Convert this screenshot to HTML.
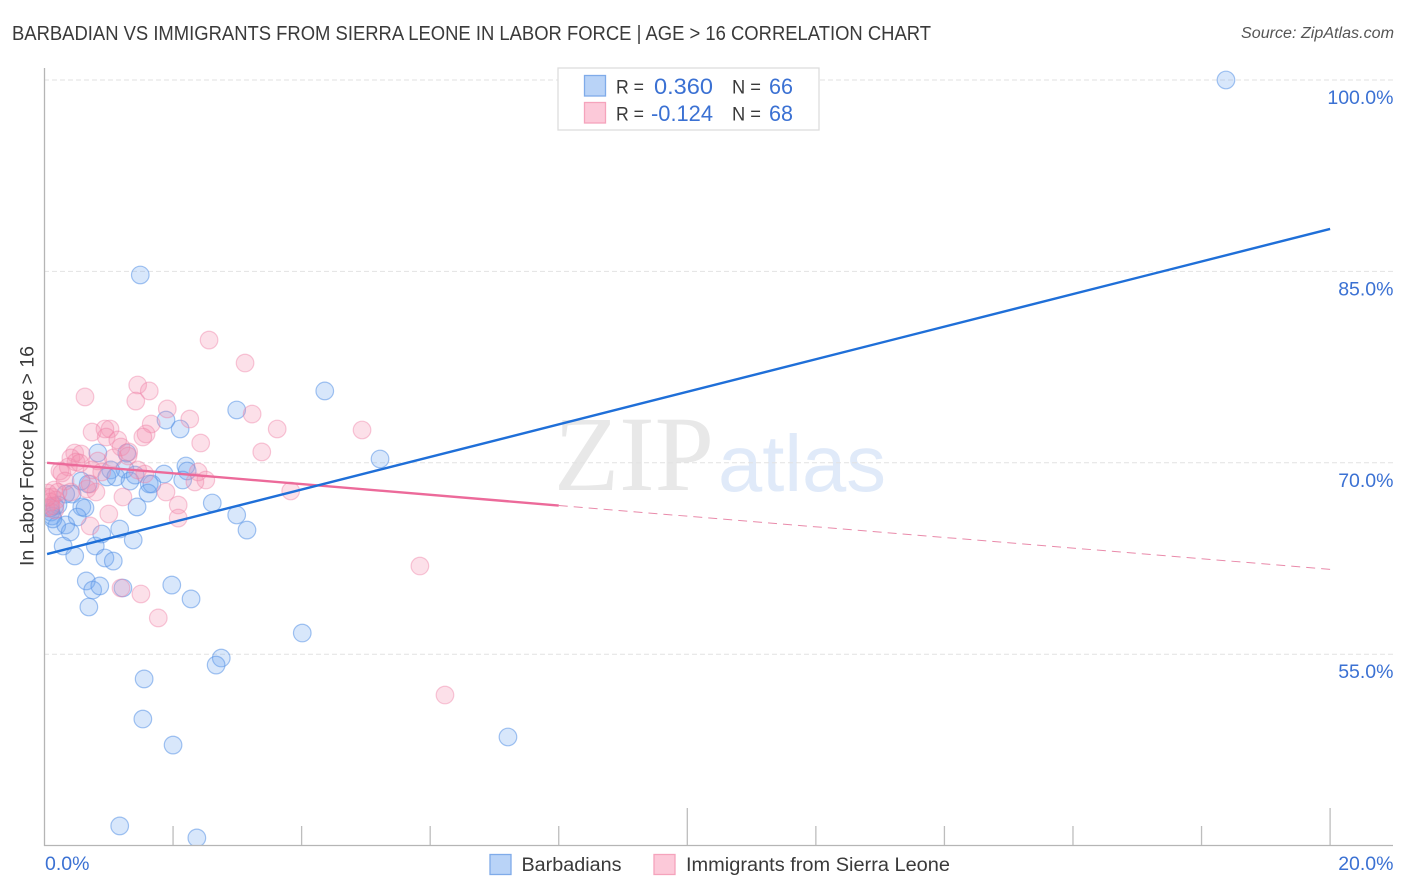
<!DOCTYPE html>
<html lang="en">
<head>
<meta charset="utf-8">
<title>Barbadian vs Immigrants from Sierra Leone in Labor Force Correlation Chart</title>
<style>
html,body{margin:0;padding:0;background:#fff;}
svg{display:block;font-family:"Liberation Sans",sans-serif;}
</style>
</head>
<body>
<svg id="chart" xmlns="http://www.w3.org/2000/svg" width="1406" height="892" viewBox="0 0 1406 892">
  <defs>
    <clipPath id="plot-clip"><rect x="45" y="60" width="1349" height="785"></rect></clipPath>
  </defs>
  <rect x="0" y="0" width="1406" height="892" fill="#ffffff"></rect>

  <text x="12" y="40" font-size="20" fill="#3a3a3a" textLength="919" lengthAdjust="spacingAndGlyphs">BARBADIAN VS IMMIGRANTS FROM SIERRA LEONE IN LABOR FORCE | AGE &gt; 16 CORRELATION CHART</text>
  <text x="1241" y="38" font-size="15.5" font-style="italic" fill="#555555" textLength="153" lengthAdjust="spacingAndGlyphs">Source: ZipAtlas.com</text>

  <g>
    <text x="554" y="490" font-family="'Liberation Serif',serif" font-size="107" fill="#e8e8e8" textLength="160" lengthAdjust="spacingAndGlyphs">ZIP</text>
    <text x="718" y="491" font-size="80" fill="#e0eaf9" textLength="168" lengthAdjust="spacingAndGlyphs">atlas</text>
  </g>

  <g id="grid"></g>
  <g id="points" clip-path="url(#plot-clip)"></g>
  <g id="trends" clip-path="url(#plot-clip)"></g>

  <g>
    <line x1="44.5" y1="68" x2="44.5" y2="846" stroke="#b5b5b5" stroke-width="1.3"></line>
    <line x1="44" y1="845.5" x2="1393" y2="845.5" stroke="#b5b5b5" stroke-width="1.3"></line>
  </g>
  <g id="xticks"></g>
  <g id="ylabels"></g>
  <g id="xlabels"></g>

  <text transform="translate(33.5,566) rotate(-90)" font-size="19" fill="#3a3a3a" textLength="220" lengthAdjust="spacingAndGlyphs">In Labor Force | Age &gt; 16</text>

  <g>
    <rect x="558" y="68" width="261" height="62" fill="#ffffff" stroke="#dddddd" stroke-width="1.3"></rect>
    <rect x="584.5" y="75.5" width="21" height="20.5" fill="#b9d3f7" stroke="#7fabe9" stroke-width="1.3"></rect>
    <text x="616" y="93.5" font-size="19" fill="#3a3a3a" textLength="28" lengthAdjust="spacingAndGlyphs">R =</text>
    <text x="654" y="94" font-size="22" fill="#3b71d3" textLength="59" lengthAdjust="spacingAndGlyphs">0.360</text>
    <text x="732" y="93.5" font-size="19" fill="#3a3a3a" textLength="29" lengthAdjust="spacingAndGlyphs">N =</text>
    <text x="769" y="94" font-size="22" fill="#3b71d3" textLength="24" lengthAdjust="spacingAndGlyphs">66</text>
    <rect x="584.5" y="102.5" width="21" height="20.5" fill="#fcc9d9" stroke="#f5a3bc" stroke-width="1.3"></rect>
    <text x="616" y="120.5" font-size="19" fill="#3a3a3a" textLength="28" lengthAdjust="spacingAndGlyphs">R =</text>
    <text x="651" y="121" font-size="22" fill="#3b71d3" textLength="62" lengthAdjust="spacingAndGlyphs">-0.124</text>
    <text x="732" y="120.5" font-size="19" fill="#3a3a3a" textLength="29" lengthAdjust="spacingAndGlyphs">N =</text>
    <text x="769" y="121" font-size="22" fill="#3b71d3" textLength="24" lengthAdjust="spacingAndGlyphs">68</text>
  </g>

  <g>
    <rect x="490" y="854.5" width="21" height="20" fill="#b9d3f7" stroke="#7fabe9" stroke-width="1.3"></rect>
    <text x="521.5" y="871" font-size="19" fill="#3a3a3a" textLength="100" lengthAdjust="spacingAndGlyphs">Barbadians</text>
    <rect x="654" y="854.5" width="21" height="20" fill="#fcc9d9" stroke="#f5a3bc" stroke-width="1.3"></rect>
    <text x="686" y="871" font-size="19" fill="#3a3a3a" textLength="264" lengthAdjust="spacingAndGlyphs">Immigrants from Sierra Leone</text>
  </g>
</svg>

<script>
var yTickValues = [100, 85, 70, 55];
var yTickLabels = ["100.0%", "85.0%", "70.0%", "55.0%"];
var xTickValues = [2, 4, 6, 8, 10, 12, 14, 16, 18, 20];
var xMajorTicks = [10, 20];
var xLabelValues = [0, 20];
var xLabelText = ["0.0%", "20.0%"];

var blueX = [18.38,1.49,4.36,2.99,1.89,2.11,5.22,2.20,2.22,2.15,1.86,1.28,0.83,1.25,1.03,0.97,1.11,1.33,1.41,1.63,1.67,1.61,0.68,0.57,0.43,0.33,1.44,2.61,2.99,3.15,0.58,0.63,0.51,0.16,0.21,0.10,0.12,0.19,0.33,0.40,0.29,0.79,0.89,1.17,1.38,0.47,0.94,1.07,0.65,0.75,0.86,1.22,1.98,2.28,0.69,4.01,2.75,2.67,1.55,1.53,2.00,7.21,1.17,2.37,0.13,0.09];
var blueY = [100,84.72,75.63,74.14,73.35,72.65,70.30,69.75,69.36,68.65,69.12,70.77,70.77,69.51,69.44,68.89,68.89,68.57,69.04,68.34,68.34,67.63,68.34,68.57,67.55,67.55,66.54,66.85,65.91,64.73,66.54,66.46,65.75,66.61,66.69,66.14,65.83,65.05,65.13,64.58,63.48,63.48,64.42,64.81,63.95,62.70,62.54,62.30,60.74,60.03,60.35,60.19,60.42,59.33,58.70,56.66,54.70,54.15,53.06,49.92,47.88,48.51,41.54,40.60,65.60,66.46];

var pinkX = [2.56,3.12,1.45,1.63,0.63,1.42,1.91,3.23,1.66,2.26,4.94,3.62,1.58,1.53,0.74,1.02,0.94,0.96,1.14,1.19,2.43,3.38,1.31,0.47,0.57,0.41,0.49,0.55,0.37,0.24,0.27,0.83,0.74,0.89,1.07,1.56,2.39,2.51,2.34,1.89,1.22,0.80,0.66,0.71,0.32,0.41,0.15,0.05,0.12,0.18,0.09,0.02,0.16,1.00,2.08,2.08,3.83,0.71,5.84,1.50,1.19,1.77,6.23,1.30,1.45,0.10,0.04,0.21];
var pinkY = [79.62,77.82,76.10,75.63,75.16,74.84,74.22,73.82,73.04,73.43,72.57,72.65,72.26,72.02,72.41,72.65,72.65,72.02,71.79,71.24,71.55,70.85,70.85,70.77,70.69,70.38,70.06,69.98,69.67,69.36,69.20,70.14,69.44,69.28,70.38,69.12,69.28,68.65,68.50,67.71,67.32,67.71,67.95,68.34,68.57,67.71,67.87,67.63,67.32,67.08,66.93,66.46,66.30,65.99,66.69,65.67,67.79,65.05,61.91,59.72,60.19,57.84,51.80,70.53,69.44,66.60,67.30,67.70];

var blueTrendX = [0.04, 20];
var blueTrendY = [62.85, 88.33];
var pinkSolidX = [0.04, 8.0];
var pinkSolidY = [70.0, 66.65];
var pinkDashX = [8.0, 20];
var pinkDashY = [66.65, 61.65];

function xScale(v) { return 44.5 + v * 64.28; }
function yScale(v) { return 80 + (100 - v) * 12.76; }

var NS = 'http://www.w3.org/2000/svg';
function make(tag, parentId, attrs) {
  var el = document.createElementNS(NS, tag);
  for (var k in attrs) { el.setAttribute(k, attrs[k]); }
  document.getElementById(parentId).appendChild(el);
  return el;
}

yTickValues.forEach(function (v, i) {
  var grid = make('line', 'grid', {x1: 44, x2: 1393, y1: yScale(v), y2: yScale(v), stroke: '#e2e2e2', 'stroke-width': 1, 'stroke-dasharray': '5 3'});
  
  
  var label = make('text', 'ylabels', {x: 1393.5, y: yScale(v) + 24, 'font-size': 19.5, fill: '#3b71d3', 'text-anchor': 'end'});
  label.textContent = yTickLabels[i];
  
  
});

xTickValues.forEach(function (v) {
  var major = xMajorTicks.indexOf(v) >= 0;
  var tick = make('line', 'xticks', {x1: xScale(v), x2: xScale(v), y1: major ? 808 : 826, y2: 845, stroke: '#bdbdbd', 'stroke-width': 1.3});
  
  
});

xLabelValues.forEach(function (v, i) {
  var label = make('text', 'xlabels', {x: i === 0 ? xScale(v) + 0.5 : 1393.5, y: 870, 'font-size': 19.5, fill: '#3b71d3', 'text-anchor': i === 0 ? 'start' : 'end'});
  label.textContent = xLabelText[i];
  
  
});

blueX.forEach(function (v, i) {
  var c = make('circle', 'points', {cx: xScale(v), cy: yScale(blueY[i]), r: 8.8, fill: '#6ea6f0', 'fill-opacity': 0.27, stroke: '#5a94e6', 'stroke-opacity': 0.55, 'stroke-width': 1.2});
  
  
});

pinkX.forEach(function (v, i) {
  var c = make('circle', 'points', {cx: xScale(v), cy: yScale(pinkY[i]), r: 8.8, fill: '#f68fb0', 'fill-opacity': 0.28, stroke: '#ef7fa5', 'stroke-opacity': 0.42, 'stroke-width': 1.2});
  
  
});

var pinkDash = make('line', 'trends', {x1: xScale(pinkDashX[0]), y1: yScale(pinkDashY[0]), x2: xScale(pinkDashX[1]), y2: yScale(pinkDashY[1]), stroke: '#e98aaa', 'stroke-width': 1, 'stroke-dasharray': '9 6'});



var pinkSolid = make('line', 'trends', {x1: xScale(pinkSolidX[0]), y1: yScale(pinkSolidY[0]), x2: xScale(pinkSolidX[1]), y2: yScale(pinkSolidY[1]), stroke: '#ec6a9a', 'stroke-width': 2.4});



var blueTrend = make('line', 'trends', {x1: xScale(blueTrendX[0]), y1: yScale(blueTrendY[0]), x2: xScale(blueTrendX[1]), y2: yScale(blueTrendY[1]), stroke: '#1f6fd8', 'stroke-width': 2.4});


</script>
</body>
</html>
